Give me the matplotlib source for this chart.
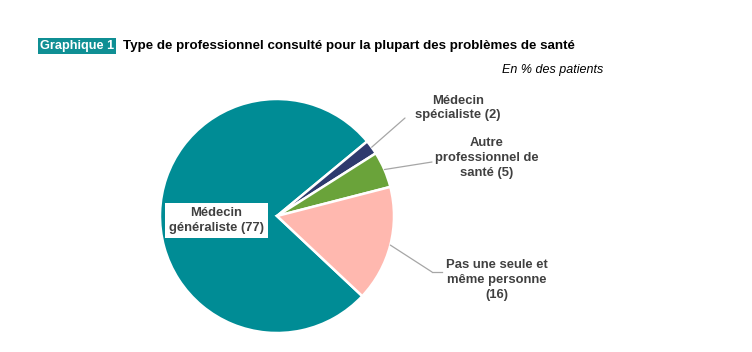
import numpy as np
import matplotlib.pyplot as plt

plt.rcParams['font.family'] = ['Liberation Sans', 'DejaVu Sans']

categories = ['Médecin\ngénéraliste (77)', 'Médecin\nspécialiste (2)',
              'Autre\nprofessionnel de\nsanté (5)', 'Pas une seule et\nmême personne\n(16)']
values = [77, 2, 5, 16]
colors = ['#008C95', '#2E3A6E', '#6AA33A', '#FFB8AF']

W, H = 752, 352
fig = plt.figure(figsize=(W / 100, H / 100), dpi=100)


def fx(x):
    return x / W


def fy(y):
    return 1 - y / H


# pie axes: centre (277, 216), radius 117 px
cx, cy, r = 277, 216, 117
ax = fig.add_axes([fx(cx - r), fy(cy + r), 2 * r / W, 2 * r / H])
wedges, _ = ax.pie(values, colors=colors, startangle=-43.2, counterclock=False,
                   wedgeprops=dict(edgecolor='white', linewidth=1.8))
ax.set_xlim(-1, 1)
ax.set_ylim(-1, 1)
ax.set_aspect('equal')

label_col = '#404040'
line_col = '#A6A6A6'

# big slice label
ax.text(-0.52, -0.04, categories[0], ha='center', va='center', fontsize=9.4,
        fontweight='bold', color=label_col, linespacing=1.3,
        bbox=dict(boxstyle='square,pad=0.3', fc='white', ec='none'))

# outer labels: (elbow point, extra end point, text centre)
leaders = [
    ((405, 118), None, (458, 108)),
    ((432, 162), None, (487, 158)),
    ((432, 272), (442, 272), (497, 280)),
]
for w, cat, (elbow, end, tpos) in zip(wedges[1:], categories[1:], leaders):
    ang = np.deg2rad((w.theta1 + w.theta2) / 2)
    p = (np.cos(ang), np.sin(ang))
    ax.annotate('', xy=p, xycoords='data', xytext=(fx(elbow[0]), fy(elbow[1])),
                textcoords='figure fraction',
                arrowprops=dict(arrowstyle='-', color=line_col, lw=0.9,
                                shrinkA=0, shrinkB=0))
    if end is not None:
        fig.add_artist(plt.Line2D([fx(elbow[0]), fx(end[0])], [fy(elbow[1]), fy(end[1])],
                                  color=line_col, lw=0.9))
    fig.text(fx(tpos[0]), fy(tpos[1]), cat, ha='center', va='center', fontsize=9.4,
             fontweight='bold', color=label_col, linespacing=1.3)

# title
fig.text(fx(40), fy(46), 'Graphique 1', ha='left', va='center', fontsize=9.2,
         fontweight='bold', color='white',
         bbox=dict(boxstyle='square,pad=0.18', fc='#0F8F94', ec='none'))
fig.text(fx(123), fy(46), 'Type de professionnel consulté pour la plupart des problèmes de santé',
         ha='left', va='center', fontsize=9.6, fontweight='bold', color='black')
fig.text(fx(603), fy(70), 'En % des patients', ha='right', va='center', fontsize=9,
         style='italic', color='black')

fig.savefig('out.png', dpi=100)
